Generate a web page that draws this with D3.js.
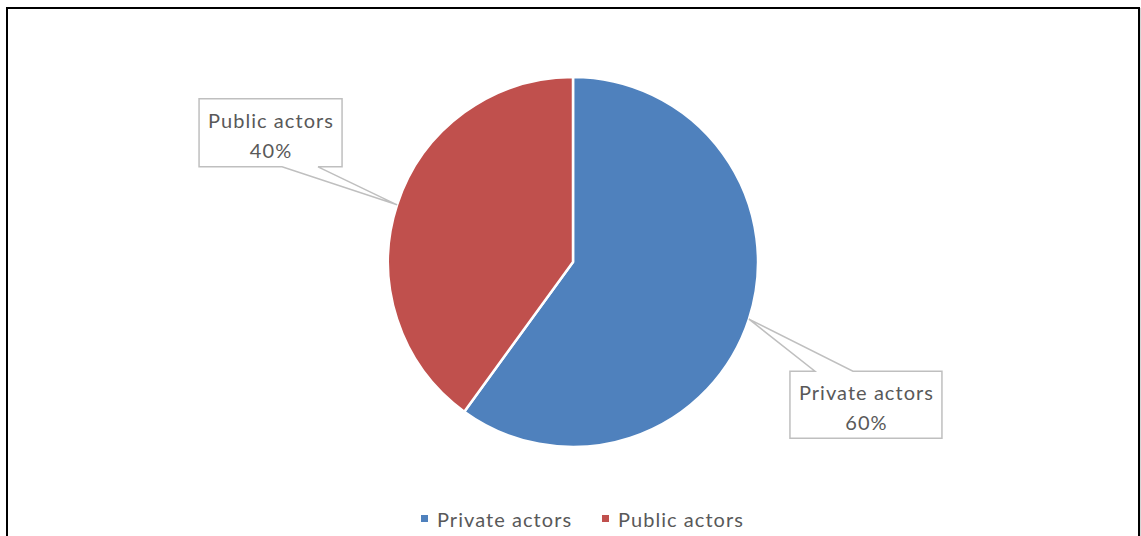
<!DOCTYPE html>
<html>
<head>
<meta charset="utf-8">
<script src="https://cdn.jsdelivr.net/npm/d3@7"></script>
<style>
  html, body { margin: 0; padding: 0; background: #fff; }
  svg { display: block; }
  text { font-family: Lato, "Open Sans", sans-serif; letter-spacing: 1.05px; }
</style>
</head>
<body>
<svg id="chart" width="1141" height="536"></svg>
<script>
// Shares of actors
const categories = ["Private actors", "Public actors"];
const shares = [60, 40];
const colors = ["#4F81BD", "#C0504D"];

const svg = d3.select("#chart");
const fontSize = 20;

// Chart frame
svg.append("rect").attr("x", 7).attr("y", 8).attr("width", 1132).attr("height", 540)
  .attr("fill", "#fff").attr("stroke", "#000").attr("stroke-width", 2);
svg.append("line").attr("x1", 1141).attr("x2", 1141).attr("y1", 8).attr("y2", 536)
  .attr("stroke", "#aaa").attr("stroke-width", 1);

const cx = 573, cy = 262, r = 185;
const g = svg.append("g").attr("transform", `translate(${cx},${cy})`);

const pie = d3.pie().sort(null).value(d => d)(shares);
const arc = d3.arc().innerRadius(0).outerRadius(r);

g.selectAll("path.slice").data(pie).join("path")
  .attr("class", "slice")
  .attr("d", arc)
  .attr("fill", (d, i) => colors[i])
  .attr("stroke", "#fff").attr("stroke-width", 2.5).attr("stroke-linejoin", "round");

// Callout labels: box plus pointer wedge to the slice's outer edge
const callouts = [
  { dx: 41, dy: 52, w: 152, h: 67, wedge: [25, 63], side: "top" },
  { dx: -198, dy: -106, w: 143, h: 68, wedge: [83, 119], side: "bottom" }
];

pie.forEach((d, i) => {
  const mid = (d.startAngle + d.endAngle) / 2;
  const ax = cx + r * Math.sin(mid), ay = cy - r * Math.cos(mid);
  const c = callouts[i];
  const x0 = ax + c.dx, y0 = ay + c.dy, x1 = x0 + c.w, y1 = y0 + c.h;
  const p = d3.path();
  if (c.side === "top") {
    p.moveTo(x0, y0); p.lineTo(x0 + c.wedge[0], y0); p.lineTo(ax, ay);
    p.lineTo(x0 + c.wedge[1], y0); p.lineTo(x1, y0); p.lineTo(x1, y1);
    p.lineTo(x0, y1); p.closePath();
  } else {
    p.moveTo(x0, y0); p.lineTo(x1, y0); p.lineTo(x1, y1);
    p.lineTo(x0 + c.wedge[1], y1); p.lineTo(ax, ay); p.lineTo(x0 + c.wedge[0], y1);
    p.lineTo(x0, y1); p.closePath();
  }
  svg.append("path").attr("d", p.toString()).attr("fill", "#fff")
    .attr("stroke", "#BFBFBF").attr("stroke-width", 1.5);
  const tx = (x0 + x1) / 2 + 0.5;
  svg.append("text").attr("x", tx).attr("y", y0 + 29).attr("text-anchor", "middle")
    .attr("font-size", fontSize).attr("fill", "#595959").text(categories[i]);
  svg.append("text").attr("x", tx).attr("y", y0 + 59).attr("text-anchor", "middle")
    .attr("font-size", fontSize).attr("fill", "#595959").text(shares[i] + "%");
});

// Legend
const legendItems = [{ x: 421 }, { x: 602 }];
categories.forEach((name, i) => {
  const lx = legendItems[i].x;
  svg.append("rect").attr("x", lx).attr("y", 515).attr("width", 7).attr("height", 7)
    .attr("fill", colors[i]);
  svg.append("text").attr("x", lx + 16).attr("y", 527).attr("font-size", fontSize)
    .attr("fill", "#595959").text(name);
});
</script>
</body>
</html>
